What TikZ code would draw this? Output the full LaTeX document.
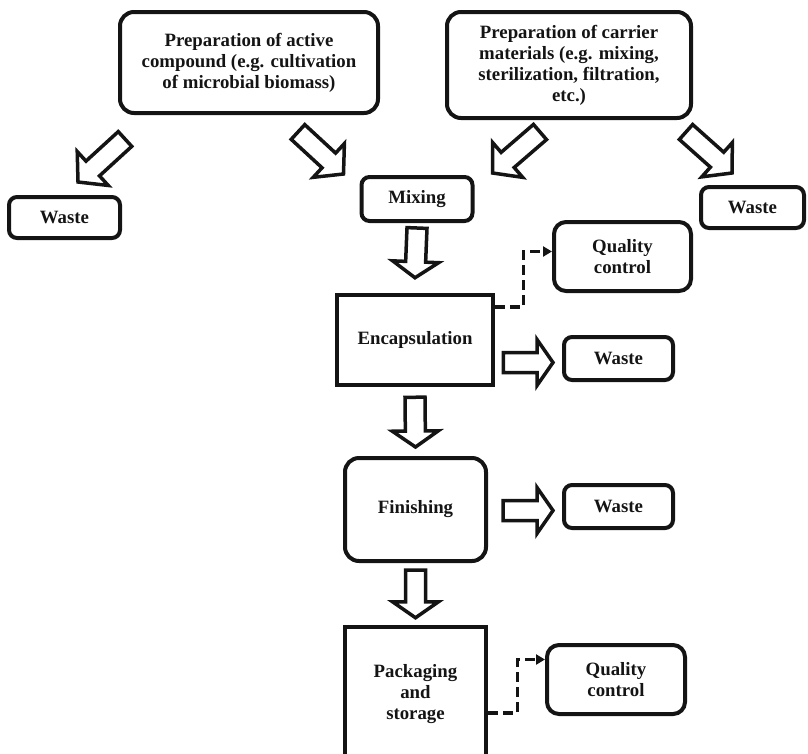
\documentclass[tikz,border=0pt]{standalone}
\usepackage{fontspec}
\setmainfont{Liberation Serif}
\usetikzlibrary{arrows.meta,calc}
\definecolor{cInk}{HTML}{141414}
\tikzset{
  pbox/.style={draw=cInk, line width=4pt, rounded corners=14pt, align=center,
    text=cInk, font=\bfseries\fontsize{18.8}{21}\selectfont, inner sep=2pt},
  stepbox/.style={pbox, sharp corners, line width=4.5pt},
  smallbox/.style={pbox, rounded corners=8pt},
  qcbox/.style={pbox, rounded corners=12pt},
  barrow/.style={draw=cInk, fill=white, line width=3.5pt, line join=miter},
  qcline/.style={draw=cInk, line width=3.5pt, dash pattern=on 10pt off 5pt,
    -{Triangle[length=9pt,width=10pt]}},
}
% hollow block arrow from #2 to #3, head length #1
\newcommand{\arrshaft}{10pt}
\newcommand{\arrheadw}{23pt}
\newcommand{\blockarrow}[3][16pt]{%
  \coordinate (ba-s) at (#2);
  \coordinate (ba-t) at (#3);
  \coordinate (ba-h) at ($(ba-t)!#1!(ba-s)$);
  \draw[barrow] ($(ba-s)!\arrshaft!90:(ba-t)$) -- ($(ba-h)!\arrshaft!-90:(ba-s)$)
    -- ($(ba-h)!\arrheadw!-90:(ba-s)$) -- (ba-t) -- ($(ba-h)!\arrheadw!90:(ba-s)$)
    -- ($(ba-h)!\arrshaft!90:(ba-s)$) -- ($(ba-s)!\arrshaft!-90:(ba-t)$) -- cycle;}

\begin{document}
\begin{tikzpicture}[x=1pt, y=-1pt]
    \useasboundingbox (0,0) rectangle (808,753);
    % --- nodes, explicit coordinates ---
    \node[pbox, minimum width=258pt, minimum height=101pt] (active) at (249,62.5)
      {Preparation of active\\compound (e.g. cultivation\\of microbial biomass)};
    \node[pbox, minimum width=244pt, minimum height=106pt] (carrier) at (569,65)
      {Preparation of carrier\\materials (e.g. mixing,\\sterilization, filtration,\\etc.)};
    \node[smallbox, minimum width=111pt, minimum height=41pt] (wasteA) at (64.5,217.5) {Waste};
    \node[smallbox, minimum width=111pt, minimum height=44pt] (mixing) at (417,199) {Mixing};
    \node[smallbox, minimum width=103pt, minimum height=41pt] (wasteB) at (752.5,207.5) {Waste};
    \node[qcbox, minimum width=137pt, minimum height=69pt] (qcA) at (622.5,256.5) {Quality\\control};
    \node[stepbox, minimum width=156pt, minimum height=90pt] (encap) at (415,340) {Encapsulation};
    \node[smallbox, minimum width=109pt, minimum height=43pt] (wasteC) at (618.5,358.5) {Waste};
    \node[pbox, minimum width=141pt, minimum height=103pt] (finish) at (415.5,509.5) {Finishing};
    \node[smallbox, minimum width=109pt, minimum height=43pt] (wasteD) at (618.5,506.5) {Waste};
    \node[stepbox, minimum width=141pt, minimum height=134pt] (pack) at (415.5,694) {Packaging\\and\\storage};
    \node[qcbox, minimum width=138pt, minimum height=69pt] (qcB) at (616,679.5) {Quality\\control};
    % --- inputs and their waste ---
    \blockarrow[20pt]{$(active.south west)+(7,24)$}{$(wasteA.north)+(13.5,-13)$}
    \blockarrow[20pt]{$(active.south)+(49,17)$}{$(mixing.north west)+(-16,-1)$}
    \blockarrow[20pt]{$(carrier.south)+(-29,12)$}{$(mixing.north east)+(18,-2)$}
    \blockarrow[20pt]{$(carrier.south east)+(-7,12)$}{$(wasteB.north)+(-20.5,-12)$}
    % --- main line ---
    \blockarrow{$(mixing.south)+(0,5)$}{$(encap.north)+(0,-15)$}
    \blockarrow{$(encap.south)+(0,10)$}{$(finish.north)+(0,-9)$}
    \blockarrow{$(finish.south)+(0,7)$}{$(pack.north)+(0,-7)$}
    \blockarrow{$(encap.east |- wasteC.west)+(8,4)$}{$(wasteC.west)+(-9,4)$}
    \blockarrow{$(finish.east |- wasteD.west)+(15,4)$}{$(wasteD.west)+(-9,4)$}
    % --- quality checks ---
    \draw[qcline] ($(encap.north east)+(0,14)$) -- ++(28,0) |- ($(qcA.west)+(0,-5)$);
    \draw[qcline] ($(pack.north east)+(0,88)$) -- ++(29,0) |- ($(qcB.west)+(0,-20)$);
\end{tikzpicture}
\end{document}
